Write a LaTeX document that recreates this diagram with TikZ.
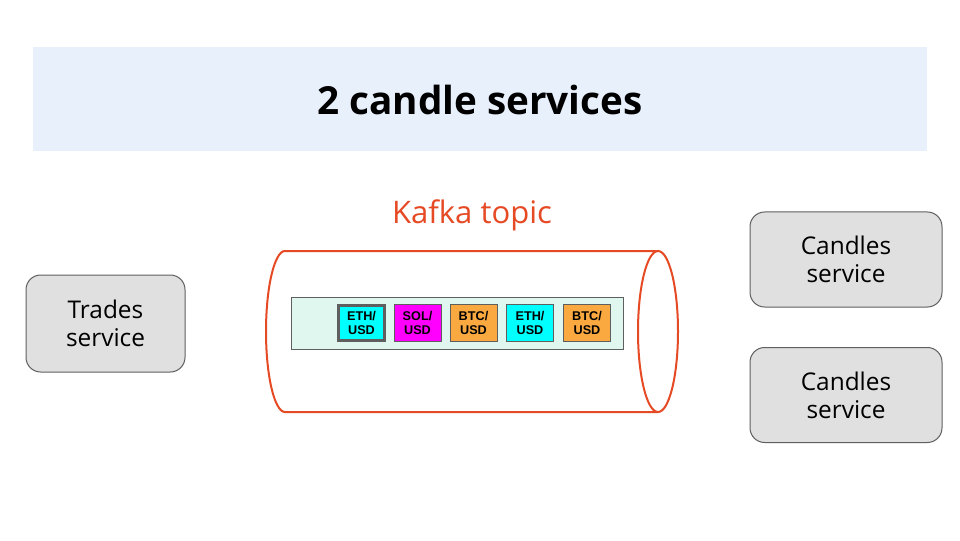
\documentclass[tikz,border=0pt]{standalone}
\usepackage{fontspec}
\setmainfont{Open Sans}
\newfontfamily\arialbold{Liberation Sans}
\definecolor{band}{HTML}{E8F0FB}
\definecolor{kafkared}{HTML}{E64A25}
\definecolor{svcfill}{HTML}{E0E0E0}
\definecolor{svcdraw}{HTML}{5F5F5F}
\definecolor{mint}{HTML}{E0F7F0}
\definecolor{msgcyan}{HTML}{00FFFF}
\definecolor{msgmag}{HTML}{FF00FF}
\definecolor{msgorange}{HTML}{F9A940}
\begin{document}
\begin{tikzpicture}[x=0.75pt,y=0.75pt,
  svc/.style={draw=svcdraw,fill=svcfill,rounded corners=11pt,line width=0.75pt,
    align=center,font=\fontsize{18.3}{21}\selectfont,inner sep=0pt},
  msg/.style={draw=svcdraw,line width=0.75pt,minimum width=35.25pt,minimum height=27.75pt,
    inner sep=0pt,align=center,font=\arialbold\bfseries\fontsize{9.5}{10.5}\selectfont}]
\useasboundingbox (0,0) rectangle (960,540);
\fill[white] (0,0) rectangle (960,540);
% title band
\node[fill=band,minimum width=670.5pt,minimum height=78pt,inner sep=0pt] (band) at (480,441) {};
\node[font=\bfseries\fontsize{29}{33}\selectfont] (title) at (480,440) {2 candle services};
% kafka label
\node[text=kafkared,font=\fontsize{23.3}{26}\selectfont] (kafka) at (472,325) {Kafka topic};
% cylinder
\draw[kafkared,line width=1.5pt] (658,289) -- (285,289)
  arc[start angle=90,end angle=270,x radius=14.25pt,y radius=60.375pt] -- (658,128);
\draw[kafkared,line width=1.5pt] (658,208.5) ellipse [x radius=15pt,y radius=60.375pt];
% inner queue
\node[draw=svcdraw,fill=mint,line width=0.75pt,minimum width=249pt,minimum height=39pt,inner sep=0pt] (queue) at (457,217) {};
\node[msg,fill=msgcyan,line width=2.25pt,minimum width=34.5pt,minimum height=26.25pt] (m1) at (361.5,217.5) {ETH/\\USD};
\node[msg,fill=msgmag] (m2) at (417.5,217.5) {SOL/\\USD};
\node[msg,fill=msgorange] (m3) at (473.5,217.5) {BTC/\\USD};
\node[msg,fill=msgcyan] (m4) at (530,217.5) {ETH/\\USD};
\node[msg,fill=msgorange] (m5) at (587,217.5) {BTC/\\USD};
% services
\node[svc,minimum width=119.25pt,minimum height=72.75pt] (trades) at (105.5,216.5) {Trades\\service};
\node[svc,minimum width=144pt,minimum height=71.25pt] (candles1) at (846,280.5) {Candles\\service};
\node[svc,minimum width=144pt,minimum height=71.25pt] (candles2) at (846,145) {Candles\\service};
\end{tikzpicture}
\end{document}
